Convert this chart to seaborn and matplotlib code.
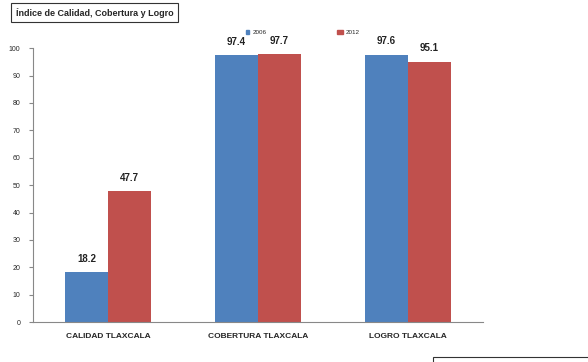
import matplotlib
matplotlib.use("Agg")
import matplotlib.pyplot as plt
import seaborn as sns
from matplotlib.patches import Rectangle
from pandas import DataFrame

# data
categories = ["CALIDAD TLAXCALA", "COBERTURA TLAXCALA", "LOGRO TLAXCALA"]
years = ["2006", "2012"]
values_2006 = [18.2, 97.4, 97.6]
values_2012 = [47.7, 97.7, 95.1]
colors = ["#4F81BD", "#C0504D"]

df = DataFrame({
    "categoria": categories * 2,
    "anio": [years[0]] * 3 + [years[1]] * 3,
    "valor": values_2006 + values_2012,
})

sns.set_style("white")
plt.rcParams["font.family"] = ["Liberation Sans", "DejaVu Sans"]

fig = plt.figure(figsize=(5.88, 3.62), dpi=100)
ax = fig.add_axes([0.056, 0.110, 0.765, 0.757])

sns.barplot(data=df, x="categoria", y="valor", hue="anio", palette=colors,
            width=0.57, gap=0, saturation=1, linewidth=0, ax=ax, legend=False)

for cont in ax.containers:
    ax.bar_label(cont, fmt="%.1f", padding=6, fontsize=7, fontweight="bold",
                 color="#222222")

ax.set_xlim(-0.5, 2.5)
ax.set_ylim(0, 100)
ax.set_yticks(range(0, 101, 10))
ax.tick_params(axis="y", labelsize=5, length=3, direction="out", color="#888888",
               left=True, pad=6)
ax.set_xticks(range(3))
ax.set_xticklabels(categories, fontsize=6, fontweight="bold")
ax.tick_params(axis="x", length=0, pad=8)
ax.set_xticks([-0.5, 0.5, 1.5, 2.5], minor=True)
ax.tick_params(axis="x", which="minor", length=4, direction="out", color="#888888")
ax.set_xlabel("")
ax.set_ylabel("")
for s in ["top", "right"]:
    ax.spines[s].set_visible(False)
for s in ["left", "bottom"]:
    ax.spines[s].set_color("#888888")
    ax.spines[s].set_linewidth(0.8)

# legend
fig.patches.append(Rectangle((0.418, 0.906), 0.006, 0.010, transform=fig.transFigure,
                             color=colors[0]))
fig.text(0.43, 0.911, years[0], fontsize=4.5, va="center")
fig.patches.append(Rectangle((0.573, 0.905), 0.010, 0.013, transform=fig.transFigure,
                             color=colors[1]))
fig.text(0.588, 0.911, years[1], fontsize=4.5, va="center")

# title box
fig.text(0.027, 0.965, "Índice de Calidad, Cobertura y Logro", fontsize=6.5,
         fontweight="bold", va="center",
         bbox=dict(boxstyle="square,pad=0.5", fc="white", ec="#333333", lw=0.8))

# cropped box at bottom right
fig.patches.append(Rectangle((0.737, -0.05), 0.30, 0.065, transform=fig.transFigure,
                             fill=False, ec="#333333", lw=0.8))

fig.savefig("out.png", dpi=100)
